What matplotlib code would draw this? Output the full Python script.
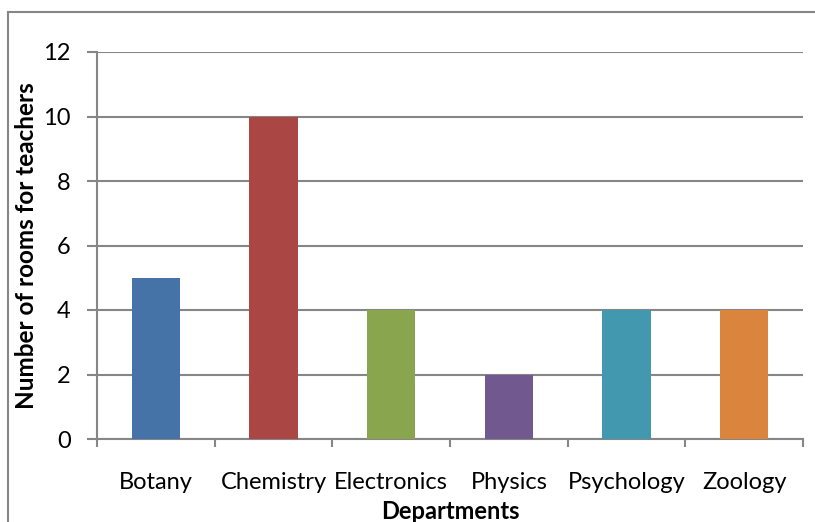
import matplotlib.pyplot as plt
from matplotlib.patches import Rectangle

departments = ['Botany', 'Chemistry', 'Electronics', 'Physics', 'Psychology', 'Zoology']
rooms = [5, 10, 4, 2, 4, 4]
colors = ['#4572A7', '#AA4643', '#89A54E', '#71588F', '#4198AF', '#DB843D']
yticks = [0, 2, 4, 6, 8, 10, 12]

plt.rcParams['font.family'] = ['Lato', 'DejaVu Sans']

fig = plt.figure(figsize=(8.15, 5.22), dpi=100)
ax = fig.add_axes([97 / 815, 1 - 439 / 522, 706 / 815, 387 / 522])

# chart area border (cut off at right and bottom)
fig.patches.append(Rectangle((8 / 815, -0.1), 1.2, 1 - 12 / 522 + 0.1,
                             transform=fig.transFigure, fill=False,
                             edgecolor='#868686', linewidth=1.5))

x = range(len(departments))
ax.bar(x, rooms, width=0.41, color=colors, zorder=3)

ax.set_xlim(-0.5, len(departments) - 0.5)
ax.set_ylim(0, 12)
ax.set_yticks(yticks)
ax.yaxis.grid(True, color='#868686', linewidth=1.5, zorder=0)

ax.set_xticks([i - 0.5 for i in range(len(departments) + 1)])
ax.set_xticklabels([])
ax.set_xticks(list(x), minor=True)
ax.set_xticklabels(departments, minor=True, fontsize=17)
ax.tick_params(axis='x', which='major', direction='out', length=6, width=1.5, color='#868686')
ax.tick_params(axis='x', which='minor', length=0, pad=24)
ax.tick_params(axis='y', direction='out', length=7, width=1.5, color='#868686', labelsize=17, pad=12)

for s in ['top', 'right']:
    ax.spines[s].set_visible(False)
for s in ['left', 'bottom']:
    ax.spines[s].set_color('#868686')
    ax.spines[s].set_linewidth(1.5)

ax.set_xlabel('Departments', fontsize=17, fontweight='bold')
ax.set_ylabel('Number of rooms for teachers', fontsize=17.5, fontweight='bold')
ax.xaxis.set_label_coords(0.5, -(500 - 439) / 387)
ax.yaxis.set_label_coords(-(97 - 38) / 706, 0.5)

fig.savefig('out.png', dpi=100)
